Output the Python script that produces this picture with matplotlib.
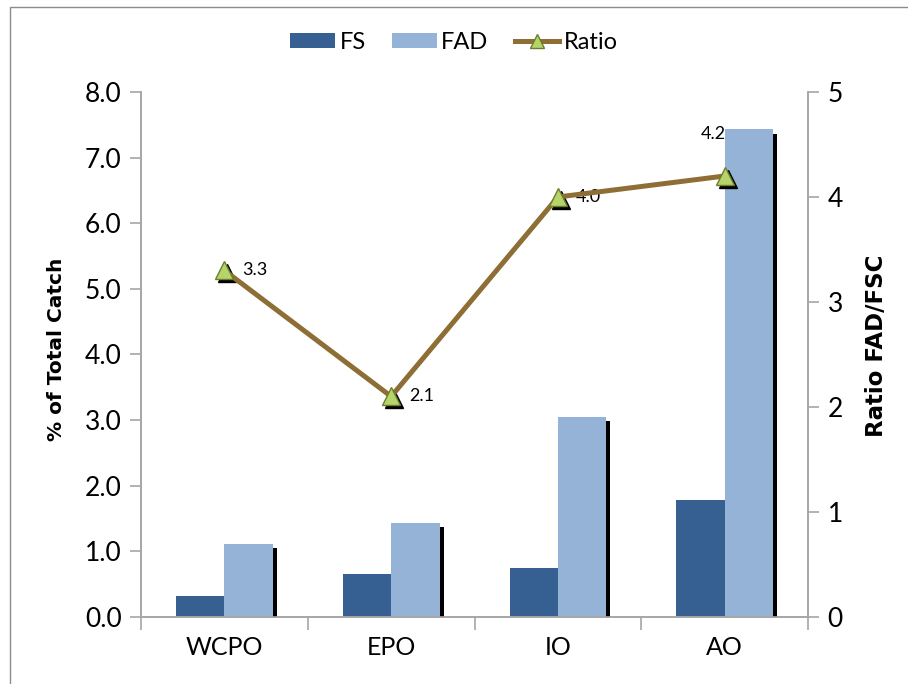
import numpy as np
import matplotlib
matplotlib.use('Agg')
import matplotlib.pyplot as plt
import matplotlib.patheffects as pe
from matplotlib import transforms
from matplotlib.patches import Rectangle, Patch
from matplotlib.lines import Line2D

plt.rcParams['font.family'] = ['Lato', 'DejaVu Sans']

regions = ['WCPO', 'EPO', 'IO', 'AO']
fs_pct = [0.32, 0.66, 0.74, 1.78]
fad_pct = [1.11, 1.43, 3.05, 7.43]
ratio = [3.3, 2.1, 4.0, 4.2]
ratio_labels = ['3.3', '2.1', '4.0', '4.2']

FS_COL = '#376092'
FAD_COL = '#95b3d7'
LINE_COL = '#8e6e34'
MK_FACE = '#b5d46a'
MK_EDGE = '#6e7d2c'
GRID_COL = '#a6a6a6'

fig = plt.figure(figsize=(9.08, 6.84), dpi=100)
ax = fig.add_axes([0.1553, 0.098, 0.7347, 0.7675])
ax2 = ax.twinx()

# outer chart frame (only left/top visible)
fig.patches.append(Rectangle((10 / 908, -0.1), 1.2, 1 - 7 / 684 + 0.1,
                             transform=fig.transFigure, fill=False,
                             edgecolor='#8c8c8c', linewidth=1.0))

x = np.arange(len(regions))
w = 0.29
shadow = [pe.SimplePatchShadow(offset=(3, -3), shadow_rgbFace='black', alpha=1.0), pe.Normal()]
ax.bar(x - w / 2, fs_pct, w, color=FS_COL, path_effects=shadow, zorder=2)
ax.bar(x + w / 2, fad_pct, w, color=FAD_COL, path_effects=shadow, zorder=3)

ax.set_xlim(-0.5, 3.5)
ax.set_ylim(0, 8)
ax.set_yticks(np.arange(0, 8.1, 1.0))
ax.set_yticklabels(['%.1f' % v for v in np.arange(0, 8.1, 1.0)], fontsize=19)
ax.set_xticks(x)
ax.set_xticklabels(regions, fontsize=18)
ax.set_xticks(np.arange(-0.5, 3.6, 1.0), minor=True)
ax.tick_params(axis='x', which='major', length=0, pad=14)
ax.tick_params(axis='x', which='minor', length=9, color=GRID_COL, width=1.2, direction='out')
ax.tick_params(axis='y', length=8, color=GRID_COL, width=1.2, pad=6)
ax.set_ylabel('% of Total Catch', fontsize=14.5, fontweight='bold',
              family='DejaVu Sans')
ax.yaxis.set_label_coords(-0.112, 0.51)

ax2.set_ylim(0, 5)
ax2.set_yticks(range(6))
ax2.set_yticklabels([str(v) for v in range(6)], fontsize=19)
ax2.tick_params(axis='y', length=8, color=GRID_COL, width=1.2, pad=6)
ax2.set_ylabel('Ratio FAD/FSC', fontsize=16.5, fontweight='bold',
               family='DejaVu Sans')
ax2.yaxis.set_label_coords(1.085, 0.516)

for a in (ax, ax2):
    a.spines['top'].set_visible(False)
    for s in ('left', 'right', 'bottom'):
        a.spines[s].set_color(GRID_COL)
        a.spines[s].set_linewidth(1.2)

# ratio line with dropped-shadow triangles
shift = transforms.offset_copy(ax2.transData, fig=fig, x=3, y=-3, units='dots')
ax2.plot(x, ratio, linestyle='none', marker='^', ms=13, color='black',
         transform=shift, zorder=4)
ax2.plot(x, ratio, color=LINE_COL, lw=3.6, marker='^', ms=13,
         markerfacecolor=MK_FACE, markeredgecolor=MK_EDGE, markeredgewidth=1.0,
         zorder=5)

for i, (xi, r, lbl) in enumerate(zip(x, ratio, ratio_labels)):
    if i == len(x) - 1:
        ax2.annotate(lbl, (xi, r), xytext=(-8, 30), textcoords='offset points',
                     ha='center', va='center', fontsize=13)
    else:
        ax2.annotate(lbl, (xi, r), xytext=(13, 0), textcoords='offset points',
                     ha='left', va='center', fontsize=13)

handles = [Patch(facecolor=FS_COL), Patch(facecolor=FAD_COL),
           Line2D([], [], color=LINE_COL, lw=3.6, marker='^', ms=10,
                  markerfacecolor=MK_FACE, markeredgecolor=MK_EDGE)]
fig.legend(handles, ['FS', 'FAD', 'Ratio'], loc='center', bbox_to_anchor=(0.5, 0.938),
           ncol=3, frameon=False, fontsize=17, handlelength=1.9, handleheight=0.6,
           handletextpad=0.2, columnspacing=1.1)

plt.savefig('out.png', dpi=100)
